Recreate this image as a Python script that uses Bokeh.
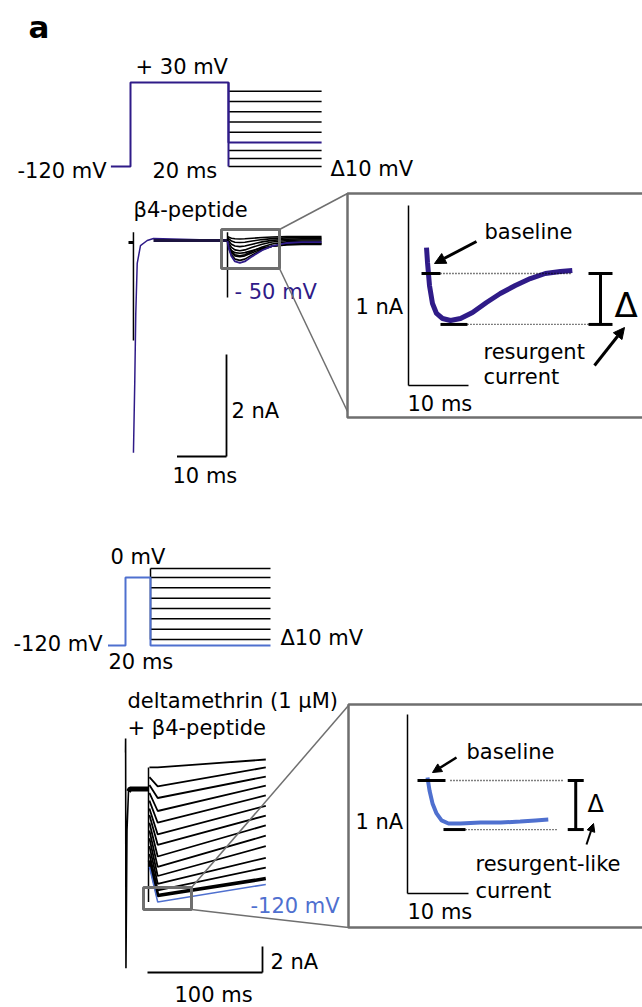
import numpy as np
from bokeh.plotting import figure
from bokeh.models import Range1d, Arrow, NormalHead
from bokeh.core.properties import value
from bokeh.embed import file_html
from bokeh.resources import INLINE

# ------------------------------------------------------------------ data
# Protocol A (beta4-peptide), mV / ms
p1_hold_mV = -120
p1_pre_mV = 30
p1_pre_ms = 20
p1_hold_ms = 4
p1_test_ms = 19
p1_steps_mV = [0, -10, -20, -30, -40, -50, -60, -70, -80]
p1_highlight_mV = -50

# Protocol B (deltamethrin + beta4-peptide)
p2_hold_mV = -120
p2_pre_mV = 0
p2_pre_ms = 20
p2_hold_ms = 14
p2_test_ms = 96
p2_steps_mV = [10, 0, -10, -20, -30, -40, -50, -60]
p2_highlight_mV = -120

# Trace A: prepulse current (ms, nA)
a_pre_ms = [1.0, 1.27, 1.47, 1.76, 2.42, 3.78, 5.05, 20.0]
a_pre_nA = [-4.16, -2.75, -1.43, -0.45, -0.10, 0.0, 0.04, 0.0]
a_lead_ms = [0.0, 1.0]
a_lead_nA = [-0.04, -0.04]
a_cap_ms = [1.0, 20.0]
a_cap_top_nA = [0.16, 0.16]
a_cap_bot_nA = [-1.96, -1.12]
# resurgent currents after the step (ms after step, nA)
res_ms = [0, 0.3, 0.8, 1.5, 2.5, 3.5, 5, 7, 9, 12, 15, 19]
res_shape = [0, 0.35, 0.7, 0.93, 1.0, 0.93, 0.7, 0.42, 0.23, 0.09, 0.05, 0.05]
res_peak_nA = [-0.05, -0.10, -0.16, -0.22, -0.30, -0.43, -0.36, -0.27, -0.18]
res_offset_nA = [0.08, 0.06, 0.04, 0.02, 0.0, -0.01, -0.03, -0.05, -0.07]

# Inset A: -50 mV resurgent current (ms, nA)
ia_ms = [0, 0.17, 0.5, 1.0, 1.67, 2.67, 4.0, 5.67, 7.67, 10, 12.3, 14.8, 17.3, 19.8, 22.3, 24.3]
ia_nA = [0.144, 0.061, -0.067, -0.167, -0.222, -0.25, -0.261, -0.25, -0.217, -0.161,
         -0.111, -0.067, -0.028, 0.0, 0.011, 0.017]
ia_delta_nA = 0.283

# Trace B: prepulse current (ms, nA)
b_pre_ms = [0, 0.1, 0.4, 1.3, 2.6, 4.0, 20.0]
b_pre_nA = [0, 1.08, -16.6, -6.0, -3.0, -2.8, -2.8]
# tail currents (test mV; initial, minimum, end values in nA)
b_tail_mV = [10, 0, -10, -20, -30, -40, -50, -60, -70, -80, -90, -100, -110, -120]
b_tail_ms = [0.8, 8, 102]
b_init_nA = [-1.15, -1.9, -2.5, -3.1, -3.7, -4.3, -4.8, -5.4, -6.0, -6.6, -7.2, -7.8, -8.3, -8.8]
b_min_nA = [-1.15, -2.6, -3.5, -4.5, -5.4, -6.3, -7.1, -8.0, -8.8, -9.5, -10.1, -10.6, -11.0, -11.5]
b_end_nA = [-0.54, -1.15, -1.85, -2.55, -3.3, -4.1, -4.85, -5.6, -6.4, -7.2, -8.1, -8.85, -9.7, -10.15]

# Inset B: -120 mV resurgent-like current (ms, nA)
ib_ms = [0, 0.33, 0.82, 1.48, 2.3, 3.44, 5.4, 8.7, 12, 15.2, 17.7, 19.8]
ib_nA = [0.017, -0.056, -0.128, -0.184, -0.223, -0.240, -0.240, -0.235, -0.235, -0.229, -0.223, -0.218]
ib_delta_nA = 0.274

# ------------------------------------------------------------------ styles
PURPLE = "#2f1b88"
BLUE = "#4f70cf"
GRAY = "#6f6f6f"
FONT = value("DejaVu Sans")
TEXT_DY = -7

p = figure(width=642, height=1007, x_range=Range1d(0, 642), y_range=Range1d(1007, 0),
           output_backend="svg", toolbar_location=None, min_border=0,
           x_axis_type=None, y_axis_type=None)
p.grid.visible = False
p.outline_line_color = None
p.background_fill_color = "white"


def txt(x, y, s, size=21, color="black", align="left", bold=False):
    p.text(x=[x], y=[y + TEXT_DY], text=[s], text_font=FONT, text_font_size=f"{size}px",
           text_color=color, text_align=align, text_baseline="alphabetic",
           text_font_style="bold" if bold else "normal")


def arrow(x0, y0, x1, y1, w=3, size=11):
    p.add_layout(Arrow(end=NormalHead(size=size, fill_color="black", line_color="black"),
                       x_start=x0, y_start=y0, x_end=x1, y_end=y1,
                       line_width=w, line_color="black"))


class Panel:
    def __init__(self, x0, y0, sx, sy):
        self.x0, self.y0, self.sx, self.sy = x0, y0, sx, sy

    def X(self, t):
        return self.x0 + self.sx * np.asarray(t, dtype=float)

    def Y(self, v):
        return self.y0 - self.sy * np.asarray(v, dtype=float)


class Proto:
    def __init__(self, x0, sx, v_anchor, y_anchor):
        self.x0, self.sx, self.va, self.ya = x0, sx, v_anchor, y_anchor

    def X(self, t):
        return self.x0 + self.sx * np.asarray(t, dtype=float)

    def Y(self, v):
        return np.interp(np.asarray(v, dtype=float), self.va, self.ya)


# ------------------------------------------------------------------ panel label
txt(28, 33, "a", size=31, bold=True)

# ------------------------------------------------------------------ protocol A
P1 = Proto(130, 4.9, [-120, -80, -50, 0, 30], [166, 166, 142, 90.7, 82])
for v in p1_steps_mV:
    if v != p1_highlight_mV:
        p.line(P1.X([p1_pre_ms, p1_pre_ms + p1_test_ms]), P1.Y([v, v]), line_color="black", line_width=1.5)
pt = [-p1_hold_ms, 0, 0, p1_pre_ms, p1_pre_ms, p1_pre_ms + p1_test_ms]
pv = [p1_hold_mV, p1_hold_mV, p1_pre_mV, p1_pre_mV, p1_highlight_mV, p1_highlight_mV]
p.line(P1.X([p1_pre_ms, p1_pre_ms]), P1.Y([p1_pre_mV, min(p1_steps_mV)]), line_color=PURPLE, line_width=2)
p.line(P1.X(pt), P1.Y(pv), line_color=PURPLE, line_width=2)
txt(135, 73, "+ 30 mV")
txt(17, 177, "-120 mV")
txt(152, 177, "20 ms")
txt(330, 175, "Δ10 mV")

# ------------------------------------------------------------------ trace A
A = Panel(128, 240, 4.95, 51)
txt(133, 216, "β4-peptide")
p.line(A.X(a_lead_ms), A.Y(a_lead_nA), line_color="black", line_width=3)
p.segment(A.X(a_cap_ms), A.Y(a_cap_top_nA), A.X(a_cap_ms), A.Y(a_cap_bot_nA), line_color="black", line_width=1.5)
p.line(A.X(a_pre_ms), A.Y(a_pre_nA), line_color=PURPLE, line_width=1.5)
p.line(A.X([5.05, 20.0]), A.Y([0.0, 0.0]), line_color="#1c1440", line_width=3)
step_t = p1_pre_ms + np.asarray(res_ms)
for mv, amp, off in zip(p1_steps_mV, res_peak_nA, res_offset_nA):
    if mv == p1_highlight_mV:
        continue
    p.line(A.X(step_t), A.Y(off + amp * np.asarray(res_shape)), line_color="black", line_width=1.6)
hi = p1_steps_mV.index(p1_highlight_mV)
p.line(A.X(step_t), A.Y(res_offset_nA[hi] + res_peak_nA[hi] * np.asarray(res_shape)),
       line_color=PURPLE, line_width=1.8)
txt(234, 298, "- 50 mV", color=PURPLE)
# scale bar A (2 nA, 10 ms)
sbx, sby = 226, 456
p.line([sbx, sbx], [sby, sby - 2 * A.sy], line_color="black", line_width=1.8)
p.line([sbx - 10 * A.sx, sbx], [sby, sby], line_color="black", line_width=1.8)
txt(231, 417, "2 nA")
txt(172, 482, "10 ms")

# zoom box A + connectors + inset frame
p.quad(left=221, right=279, top=229, bottom=268, fill_color=None, line_color=GRAY, line_width=3)
p.line([279, 347], [229, 193], line_color=GRAY, line_width=1.5)
p.line([279, 347], [268, 411], line_color=GRAY, line_width=1.5)
p.quad(left=347, right=680, top=193, bottom=417, fill_color=None, line_color=GRAY, line_width=2.5)

# ------------------------------------------------------------------ inset A
IA = Panel(426, 273, 6.0, 180)
ax0, ay0 = 408, 385
p.line([ax0, ax0], [ay0, ay0 - 1 * IA.sy], line_color="black", line_width=1.5)
p.line([ax0, ax0 + 10 * IA.sx], [ay0, ay0], line_color="black", line_width=1.5)
txt(355, 313, "1 nA")
txt(407, 410, "10 ms")
p.line(IA.X(ia_ms), IA.Y(ia_nA), line_color=PURPLE, line_width=5)
p.line(IA.X([-0.83, 2.33]), IA.Y([0, 0]), line_color="black", line_width=3)
p.line(IA.X([2.33, 6.83]), IA.Y([-ia_delta_nA] * 2), line_color="black", line_width=3)
p.line(IA.X([2.33, 24.3]), IA.Y([0, 0]), line_color="black", line_width=1.3, line_dash="1 2")
p.line(IA.X([6.83, 28.5]), IA.Y([-ia_delta_nA] * 2), line_color="black", line_width=1.3, line_dash="1 2")
bx = IA.X(29.0)
p.line([bx, bx], IA.Y([0, -ia_delta_nA]), line_color="black", line_width=3)
p.line([bx - 12, bx + 12], IA.Y([0, 0]), line_color="black", line_width=3)
p.line([bx - 12, bx + 12], IA.Y([-ia_delta_nA] * 2), line_color="black", line_width=3)
txt(614, 311, "Δ", size=34)
txt(484, 238, "baseline")
arrow(476, 241, 434, 263)
txt(483, 358, "resurgent")
txt(483, 383, "current")
arrow(594, 365, 624, 327)

# ------------------------------------------------------------------ protocol B
P2 = Proto(125, 1.25, [-120, -60, 0, 10], [645, 639, 577, 568])
for v in p2_steps_mV:
    p.line(P2.X([p2_pre_ms, p2_pre_ms + p2_test_ms]), P2.Y([v, v]), line_color="black", line_width=1.5)
p.line(P2.X([p2_pre_ms, p2_pre_ms]), P2.Y([max(p2_steps_mV), min(p2_steps_mV)]), line_color="black", line_width=1.5)
qt = [-p2_hold_ms, 0, 0, p2_pre_ms, p2_pre_ms, p2_pre_ms + p2_test_ms]
qv = [p2_hold_mV, p2_hold_mV, p2_pre_mV, p2_pre_mV, p2_highlight_mV, p2_highlight_mV]
p.line(P2.X(qt), P2.Y(qv), line_color=BLUE, line_width=2)
txt(110, 563, "0 mV")
txt(13, 650, "-120 mV")
txt(108, 668, "20 ms")
txt(280, 644, "Δ10 mV")

# ------------------------------------------------------------------ trace B
B = Panel(125, 752, 1.15, 13)
txt(127, 707, "deltamethrin (1 μM)")
txt(127, 734, "+ β4-peptide")
p.line(B.X(b_pre_ms), B.Y(b_pre_nA), line_color="black", line_width=1.6)
p.line(B.X(b_pre_ms[4:]), B.Y(b_pre_nA[4:]), line_color="black", line_width=5)
p.line(B.X([p2_pre_ms, p2_pre_ms]), B.Y([max(b_init_nA), min(b_min_nA)]), line_color="black", line_width=1.5)
for mv, a0, a1, a2 in zip(b_tail_mV, b_init_nA, b_min_nA, b_end_nA):
    tt = p2_pre_ms + np.asarray(b_tail_ms)
    col = BLUE if mv == p2_highlight_mV else "black"
    w = 3.5 if mv == -110 else (1.5 if mv == p2_highlight_mV else 1.8)
    p.line(B.X(tt), B.Y([a0, a1, a2]), line_color=col, line_width=w)
txt(250, 912, "-120 mV", color=BLUE)
sbx2, sby2 = 262, 972
p.line([sbx2, sbx2], [sby2, sby2 - 2 * B.sy], line_color="black", line_width=1.8)
p.line([sbx2 - 100 * B.sx, sbx2], [sby2, sby2], line_color="black", line_width=1.8)
txt(270, 968, "2 nA")
txt(174, 1001, "100 ms")

p.quad(left=143, right=191, top=887, bottom=909, fill_color=None, line_color=GRAY, line_width=3)
p.line([191, 348], [887, 705], line_color=GRAY, line_width=1.5)
p.line([191, 348], [909, 927], line_color=GRAY, line_width=1.5)
p.quad(left=348, right=680, top=704, bottom=927, fill_color=None, line_color=GRAY, line_width=2.5)

# ------------------------------------------------------------------ inset B
IB = Panel(427, 780, 6.1, 179)
bx0, by0 = 407, 893
p.line([bx0, bx0], [by0, by0 - 1 * IB.sy], line_color="black", line_width=1.5)
p.line([bx0, bx0 + 10 * IB.sx], [by0, by0], line_color="black", line_width=1.5)
txt(355, 828, "1 nA")
txt(407, 918, "10 ms")
p.line(IB.X(ib_ms), IB.Y(ib_nA), line_color=BLUE, line_width=4)
p.line(IB.X([-1.64, 2.95]), IB.Y([0, 0]), line_color="black", line_width=3)
p.line(IB.X([2.62, 6.23]), IB.Y([-ib_delta_nA] * 2), line_color="black", line_width=3)
p.line(IB.X([3.77, 22.3]), IB.Y([0, 0]), line_color="black", line_width=1.3, line_dash="1 2")
p.line(IB.X([6.23, 21.3]), IB.Y([-ib_delta_nA] * 2), line_color="black", line_width=1.3, line_dash="1 2")
cx = IB.X(24.3)
p.line([cx, cx], IB.Y([0, -ib_delta_nA]), line_color="black", line_width=3)
p.line([cx - 8, cx + 8], IB.Y([0, 0]), line_color="black", line_width=3)
p.line([cx - 8, cx + 8], IB.Y([-ib_delta_nA] * 2), line_color="black", line_width=3)
txt(587, 810, "Δ", size=24)
txt(466, 758, "baseline")
arrow(456, 757, 432, 772, w=2.5, size=9)
txt(475, 870, "resurgent-like")
txt(475, 897, "current")
arrow(586, 844, 593, 823, w=2, size=8)

open("out.html", "w").write(file_html(p, INLINE))
